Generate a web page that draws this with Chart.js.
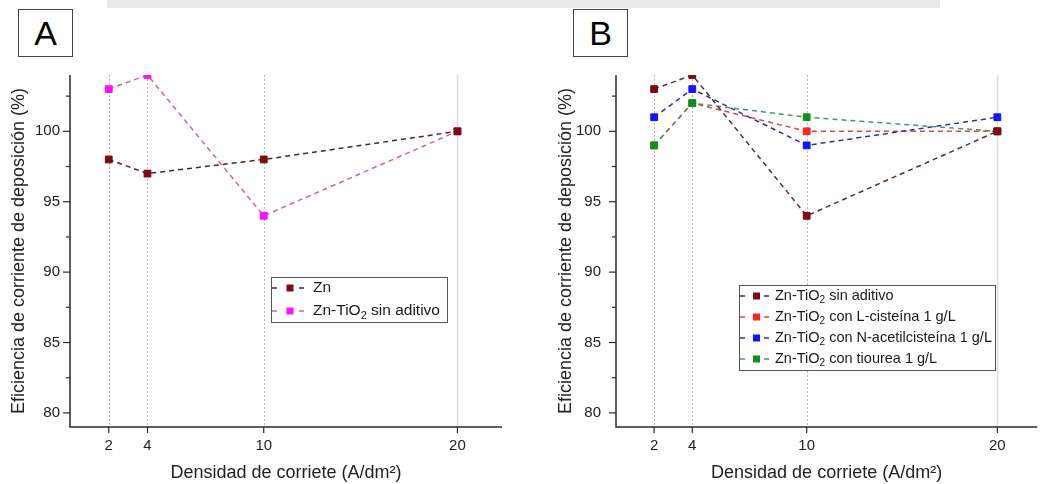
<!DOCTYPE html>
<html>
<head>
<meta charset="utf-8">
<script src="https://cdn.jsdelivr.net/npm/chart.js@4.4.1/dist/chart.umd.min.js"></script>
<style>
  html, body { margin: 0; padding: 0; background: #fff; }
  body { width: 1043px; height: 484px; position: relative; overflow: hidden; font-family: "Liberation Sans", Arial, sans-serif; }
  .wrap { position: absolute; top: 0; }
  .tag { position: absolute; top: 9px; width: 53px; height: 46px; border: 1px solid #444; background: #fff;
         font-family: "Liberation Sans", Arial, sans-serif; font-size: 34px; color: #000;
         display: flex; align-items: center; justify-content: center; z-index: 2; }
  .band { position: absolute; top: 0; left: 107px; width: 833px; height: 8px; background: #e9e9e9; }
</style>
</head>
<body>
<div class="band"></div>
<div class="wrap" style="left:0;width:520px;height:484px;"><canvas id="cA" width="520" height="484"></canvas></div>
<div class="wrap" style="left:540px;width:503px;height:484px;"><canvas id="cB" width="503" height="484"></canvas></div>
<div class="tag" style="left:18px;">A</div>
<div class="tag" style="left:573px;">B</div>
<script>
// ---------- data ----------
const densidad = [2, 4, 10, 20];                 // A/dm²
const xTicks = [2, 4, 10, 20];
const yTicks = [80, 82.5, 85, 87.5, 90, 92.5, 95, 97.5, 100, 102.5];
const yLabelled = [80, 85, 90, 95, 100];

const zn = [98, 97, 98, 100];
const znTiO2SinAditivo = [103, 104, 94, 100];
const znTiO2LCisteina = [99, 102, 100, 100];
const znTiO2NAcetilcisteina = [101, 103, 99, 101];
const znTiO2Tiourea = [99, 102, 101, 100];

const labelsA = ['Zn', 'Zn-TiO\u2082 sin aditivo'];
const labelsB = ['Zn-TiO\u2082 sin aditivo', 'Zn-TiO\u2082 con L-cisteína 1 g/L',
                 'Zn-TiO\u2082 con N-acetilcisteína 1 g/L', 'Zn-TiO\u2082 con tiourea 1 g/L'];
const xTitle = 'Densidad de corriete (A/dm\u00B2)';
const yTitle = 'Eficiencia de corriente de deposición (%)';

// ---------- helpers ----------
const FONT = '"Liberation Sans", Arial, sans-serif';
function pts(vals) { return densidad.map((x, i) => ({ x: x, y: vals[i] })); }
function ds(label, vals, marker, line, order) {
  return {
    label: label, data: pts(vals), order: order,
    borderColor: line, borderWidth: 1.5, borderDash: [5, 4],
    pointStyle: 'rect', pointRadius: 4.8, pointBackgroundColor: marker,
    pointBorderColor: marker, pointBorderWidth: 1, fill: false, tension: 0
  };
}

// draws text, rendering the subscript-two character as a small lowered "2"
function richText(ctx, text, x, y, size) {
  const parts = text.split('\u2082');
  let cx = x;
  parts.forEach((p, i) => {
    ctx.font = size + 'px ' + FONT;
    ctx.fillText(p, cx, y);
    cx += ctx.measureText(p).width;
    if (i < parts.length - 1) {
      ctx.font = Math.round(size * 0.68) + 'px ' + FONT;
      ctx.fillText('2', cx, y + size * 0.3);
      cx += ctx.measureText('2').width;
    }
  });
}

const decor = {
  id: 'decor',
  beforeDatasetsDraw(chart) {
    const { ctx, chartArea: ca, scales: { x, y } } = chart;
    ctx.save();
    x.ticks.forEach(t => {
      const px = Math.round(x.getPixelForValue(t.value)) + 0.5;
      ctx.beginPath();
      if (t.value === 20) { ctx.setLineDash([]); ctx.strokeStyle = '#dedede'; ctx.lineWidth = 1.5; }
      else { ctx.setLineDash([2, 2]); ctx.strokeStyle = '#c6b4bc'; ctx.lineWidth = 1; }
      ctx.moveTo(px, ca.top); ctx.lineTo(px, ca.bottom); ctx.stroke();
    });
    ctx.setLineDash([]);
    ctx.strokeStyle = '#2b2b2b'; ctx.lineWidth = 1.5;
    ctx.beginPath();
    ctx.moveTo(ca.left, ca.top); ctx.lineTo(ca.left, ca.bottom); ctx.lineTo(ca.right, ca.bottom);
    ctx.stroke();
    ctx.lineWidth = 1.2;
    y.ticks.forEach(t => {
      const py = y.getPixelForValue(t.value);
      const len = (t.value % 5 === 0) ? 7 : 4;
      ctx.beginPath(); ctx.moveTo(ca.left - len, py); ctx.lineTo(ca.left, py); ctx.stroke();
    });
    x.ticks.forEach(t => {
      const px = x.getPixelForValue(t.value);
      ctx.beginPath(); ctx.moveTo(px, ca.bottom); ctx.lineTo(px, ca.bottom + 6); ctx.stroke();
    });
    ctx.restore();
  },
  afterDatasetsDraw(chart, args, o) {
    const ctx = chart.ctx;
    const dsets = chart.data.datasets;
    ctx.save();
    ctx.fillStyle = '#fff';
    ctx.fillRect(o.box[0], o.box[1], o.box[2], o.box[3]);
    ctx.strokeStyle = '#555'; ctx.lineWidth = 1;
    ctx.strokeRect(o.box[0] + 0.5, o.box[1] + 0.5, o.box[2], o.box[3]);
    ctx.textBaseline = 'middle';
    dsets.forEach((d, i) => {
      const yy = o.rows[i];
      ctx.strokeStyle = d.borderColor; ctx.lineWidth = 1.5;
      ctx.beginPath();
      ctx.moveTo(o.sample[0], yy); ctx.lineTo(o.sample[0] + 5, yy);
      ctx.moveTo(o.sample[2] - 5, yy); ctx.lineTo(o.sample[2], yy);
      ctx.stroke();
      ctx.fillStyle = d.pointBackgroundColor;
      ctx.fillRect(o.sample[1] - 3.5, yy - 3.5, 7, 7);
      ctx.fillStyle = '#1a1a1a';
      richText(ctx, d.label, o.textX, yy, o.size);
    });
    ctx.restore();
  }
};

function makeOptions(xmax, pad, yWidth, legend) {
  return {
    responsive: false, animation: false, devicePixelRatio: 1,
    layout: { padding: pad },
    plugins: { legend: { display: false }, tooltip: { enabled: false }, decor: legend },
    scales: {
      x: {
        type: 'linear', min: 0, max: xmax,
        afterBuildTicks: s => { s.ticks = xTicks.map(v => ({ value: v })); },
        afterFit: s => { s.height = 57; },
        grid: { display: false, drawTicks: false }, border: { display: false },
        ticks: { autoSkip: false, maxRotation: 0, padding: 10, color: '#222', font: { family: FONT, size: 15 } },
        title: { display: true, text: xTitle, color: '#222', padding: { top: 4, bottom: 0 }, font: { family: FONT, size: 18 } }
      },
      y: {
        type: 'linear', min: 79, max: 104,
        afterBuildTicks: s => { s.ticks = yTicks.map(v => ({ value: v })); },
        afterFit: s => { s.width = yWidth; },
        grid: { display: false, drawTicks: false }, border: { display: false },
        ticks: { autoSkip: false, padding: legend.yPad, color: '#222', font: { family: FONT, size: 15 },
                 callback: v => (yLabelled.includes(v) ? String(v) : '') },
        title: { display: true, text: yTitle, color: '#222', font: { family: FONT, size: 18 } }
      }
    }
  };
}

new Chart(document.getElementById('cA'), {
  type: 'line',
  data: { datasets: [
    ds(labelsA[0], zn, '#7a0a16', '#4a2634', 0),
    ds(labelsA[1], znTiO2SinAditivo, '#ff10ff', '#c468b0', 1)
  ] },
  options: makeOptions(22.3, { left: 4, top: 75, right: 18, bottom: 0 }, 66,
    { box: [271, 277, 176, 45], rows: [288, 311], sample: [272, 290, 304], textX: 313, yPad: 10, size: 15.5 }),
  plugins: [decor]
});

new Chart(document.getElementById('cB'), {
  type: 'line',
  data: { datasets: [
    ds(labelsB[0], znTiO2SinAditivo, '#7c0a14', '#5c2a3c', 0),
    ds(labelsB[1], znTiO2LCisteina, '#ff2222', '#d8484c', 3),
    ds(labelsB[2], znTiO2NAcetilcisteina, '#1414ff', '#34348e', 2),
    ds(labelsB[3], znTiO2Tiourea, '#0f8f1f', '#4f9468', 1)
  ] },
  options: makeOptions(22.09, { left: 11, top: 75, right: 0, bottom: 0 }, 65,
    { box: [199, 285, 256, 85], rows: [296, 317, 338, 359], sample: [200, 216.5, 229], textX: 235, yPad: 15, size: 14.5 }),
  plugins: [decor]
});
</script>
</body>
</html>
